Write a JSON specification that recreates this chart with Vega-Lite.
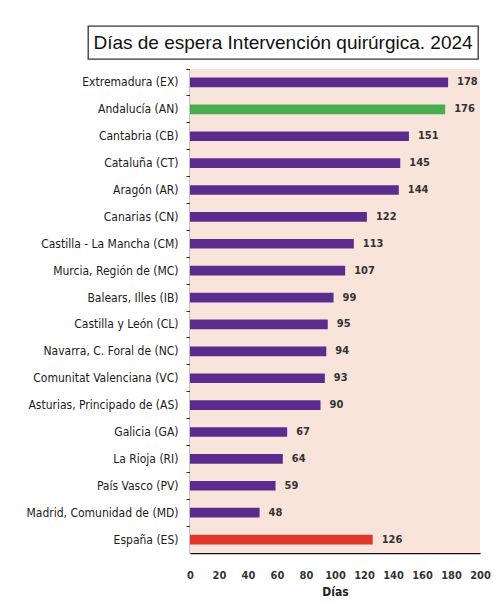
{
  "$schema": "https://vega.github.io/schema/vega-lite/v6.json",
  "padding": {"left": 22, "top": 25, "right": 0, "bottom": 0},
  "background": "white",
  "spacing": 8,
  "config": {"font": "Liberation Sans"},
  "vconcat": [
    {
      "width": 390,
      "height": 33,
      "view": {"stroke": "#333333", "strokeWidth": 1.3, "fill": "white"},
      "data": {"values": [{"t": "Días de espera Intervención quirúrgica. 2024"}]},
      "mark": {"type": "text", "font": "Liberation Sans", "fontSize": 19, "color": "#111111", "align": "center", "baseline": "middle"},
      "encoding": {"text": {"field": "t"}}
    },
    {
      "width": 392,
      "height": 484,
      "view": {"stroke": null, "fill": null},
      "data": {"values": [
        {"region": "Extremadura (EX)", "dias": 178, "grupo": "ccaa"},
        {"region": "Andalucía (AN)", "dias": 176, "grupo": "andalucia"},
        {"region": "Cantabria (CB)", "dias": 151, "grupo": "ccaa"},
        {"region": "Cataluña (CT)", "dias": 145, "grupo": "ccaa"},
        {"region": "Aragón (AR)", "dias": 144, "grupo": "ccaa"},
        {"region": "Canarias (CN)", "dias": 122, "grupo": "ccaa"},
        {"region": "Castilla - La Mancha (CM)", "dias": 113, "grupo": "ccaa"},
        {"region": "Murcia, Región de (MC)", "dias": 107, "grupo": "ccaa"},
        {"region": "Balears, Illes (IB)", "dias": 99, "grupo": "ccaa"},
        {"region": "Castilla y León (CL)", "dias": 95, "grupo": "ccaa"},
        {"region": "Navarra, C. Foral de (NC)", "dias": 94, "grupo": "ccaa"},
        {"region": "Comunitat Valenciana (VC)", "dias": 93, "grupo": "ccaa"},
        {"region": "Asturias, Principado de (AS)", "dias": 90, "grupo": "ccaa"},
        {"region": "Galicia (GA)", "dias": 67, "grupo": "ccaa"},
        {"region": "La Rioja (RI)", "dias": 64, "grupo": "ccaa"},
        {"region": "País Vasco (PV)", "dias": 59, "grupo": "ccaa"},
        {"region": "Madrid, Comunidad de (MD)", "dias": 48, "grupo": "ccaa"},
        {"region": "España (ES)", "dias": 126, "grupo": "espana"}
      ]},
      "layer": [
        {
          "data": {"values": [{"fondo": "plot"}]},
          "mark": {"type": "rect", "color": "#f9e4db"},
          "encoding": {
            "x": {
              "datum": 0, "type": "quantitative",
              "scale": {"domain": [0, 200], "range": [102, 392]},
              "axis": {
                "title": "Días", "values": [0, 20, 40, 60, 80, 100, 120, 140, 160, 180, 200], "labelOverlap": false, "labelFlush": false,
                "grid": false, "ticks": false, "domainColor": "#111111", "domainWidth": 1.5,
                "labelPadding": 16, "labelFont": "DejaVu Sans Condensed", "labelFontSize": 11, "labelFontWeight": "bold", "labelColor": "#333333",
                "titleFont": "DejaVu Sans Condensed", "titleFontSize": 12, "titleFontWeight": "bold", "titleColor": "#222222", "titlePadding": 6
              }
            },
            "x2": {"datum": 200}
          }
        },
        {
          "mark": {"type": "bar", "height": {"band": 0.36}},
          "encoding": {
            "y": {
              "field": "region", "type": "nominal", "sort": null,
              "scale": {"paddingInner": 0, "paddingOuter": 0},
              "axis": {
                "title": null, "bandPosition": 0, "offset": -102, "domainColor": "#111111", "domainWidth": 1.5,
                "tickColor": "#333333", "tickSize": 4, "labelPadding": 8,
                "labelFont": "DejaVu Sans Condensed", "labelFontSize": 12, "labelColor": "#1a1a1a",
                "minExtent": 168, "maxExtent": 168
              }
            },
            "x": {
              "field": "dias", "type": "quantitative",
              "axis": {
                "title": "Días", "values": [0, 20, 40, 60, 80, 100, 120, 140, 160, 180, 200], "labelOverlap": false, "labelFlush": false,
                "grid": false, "ticks": false, "domainColor": "#111111", "domainWidth": 1.5,
                "labelPadding": 16, "labelFont": "DejaVu Sans Condensed", "labelFontSize": 11, "labelFontWeight": "bold", "labelColor": "#333333",
                "titleFont": "DejaVu Sans Condensed", "titleFontSize": 12, "titleFontWeight": "bold", "titleColor": "#222222", "titlePadding": 6
              }
            },
            "color": {
              "field": "grupo", "type": "nominal", "legend": null,
              "scale": {"domain": ["ccaa", "andalucia", "espana"], "range": ["#5b2b8e", "#48ad4c", "#e0352b"]}
            }
          }
        },
        {
          "mark": {"type": "text", "align": "left", "baseline": "middle", "dx": 9, "font": "DejaVu Sans Condensed", "fontSize": 11, "fontWeight": "bold", "color": "#333333"},
          "encoding": {
            "y": {"field": "region", "type": "nominal", "sort": null},
            "x": {
              "field": "dias", "type": "quantitative",
              "axis": {
                "title": "Días", "values": [0, 20, 40, 60, 80, 100, 120, 140, 160, 180, 200], "labelOverlap": false, "labelFlush": false,
                "grid": false, "ticks": false, "domainColor": "#111111", "domainWidth": 1.5,
                "labelPadding": 16, "labelFont": "DejaVu Sans Condensed", "labelFontSize": 11, "labelFontWeight": "bold", "labelColor": "#333333",
                "titleFont": "DejaVu Sans Condensed", "titleFontSize": 12, "titleFontWeight": "bold", "titleColor": "#222222", "titlePadding": 6
              }
            },
            "text": {"field": "dias", "type": "quantitative"}
          }
        }
      ]
    }
  ]
}
